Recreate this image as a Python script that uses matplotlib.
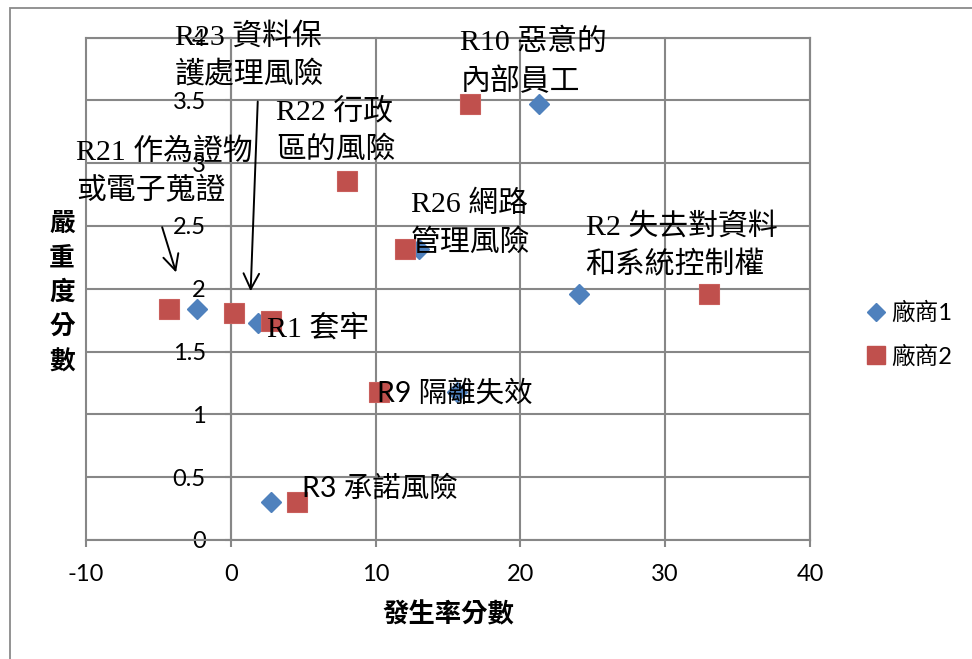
import matplotlib
matplotlib.use("Agg")
import matplotlib.pyplot as plt
from matplotlib.patches import Rectangle
from matplotlib.lines import Line2D

plt.rcParams["axes.unicode_minus"] = False

# ---- data -------------------------------------------------------------
x_ticks = [-10, 0, 10, 20, 30, 40]
y_ticks = [0, 0.5, 1, 1.5, 2, 2.5, 3, 3.5, 4]
y_tick_labels = ["0", "0.5", "1", "1.5", "2", "2.5", "3", "3.5", "4"]

series_names = ["廠商1", "廠商2"]

# 廠商1 (occurrence score, severity score)
vendor1_x = [-2.3, 1.9, 2.75, 15.6, 13.0, 21.25, 24.05]
vendor1_y = [1.84, 1.73, 0.30, 1.18, 2.32, 3.47, 1.96]

# 廠商2 (occurrence score, severity score)
vendor2_x = [-4.25, 0.2, 2.75, 4.55, 10.25, 8.05, 12.0, 16.55, 33.0]
vendor2_y = [1.84, 1.81, 1.74, 0.30, 1.18, 2.86, 2.32, 3.47, 1.96]

risk_labels = [
    "R23 資料保\n護處理風險",
    "R10 惡意的\n內部員工",
    "R22 行政\n區的風險",
    "R21 作為證物\n或電子蒐證",
    "R26 網路\n管理風險",
    "R2 失去對資料\n和系統控制權",
    "R1 套牢",
    "R9 隔離失效",
    "R3 承諾風險",
]

x_label = "發生率分數"
y_label = "嚴重度分數"

# ---- styling ----------------------------------------------------------
BLUE = "#4F81BD"
RED = "#C0504D"
GRID = "#878787"
SERIF = ["Liberation Serif", "Noto Sans CJK TC"]
SANS = ["Lato", "Noto Sans CJK TC"]
CJK = ["Noto Sans CJK TC", "DejaVu Sans"]

W, H = 972, 659
fig = plt.figure(figsize=(W / 100, H / 100), dpi=100)

ax_l, ax_r, ax_t, ax_b = 86, 810, 37.5, 540
ax = fig.add_axes([ax_l / W, 1 - ax_b / H, (ax_r - ax_l) / W, (ax_b - ax_t) / H])
ax.set_xlim(-10, 40)
ax.set_ylim(0, 4)
ax.set_xticks(x_ticks)
ax.set_yticks(y_ticks)
ax.set_yticklabels(y_tick_labels)

ax.grid(True, color=GRID, linewidth=1.5, zorder=0)
ax.set_axisbelow(True)
for gl in ax.get_xgridlines() + ax.get_ygridlines():
    gl.set_clip_on(False)

for side in ["top", "right"]:
    ax.spines[side].set_color(GRID)
    ax.spines[side].set_linewidth(1.5)
ax.spines["left"].set_position(("data", 0))
ax.spines["left"].set_color(GRID)
ax.spines["left"].set_linewidth(1.5)
ax.spines["bottom"].set_color(GRID)
ax.spines["bottom"].set_linewidth(1.5)

ax.tick_params(axis="x", direction="out", length=5, width=1.5, color=GRID,
               pad=12, labelsize=17)
ax.tick_params(axis="y", direction="out", length=4, width=1.5, color=GRID,
               pad=14, labelsize=17)
for lab in ax.get_xticklabels() + ax.get_yticklabels():
    lab.set_family(SANS)

# ---- series -----------------------------------------------------------
ax.plot(vendor1_x, vendor1_y, linestyle="none", marker="D", markersize=10.2,
        color=BLUE, markeredgecolor=BLUE, label=series_names[0], zorder=3,
        clip_on=False)
ax.plot(vendor2_x, vendor2_y, linestyle="none", marker="s", markersize=14.2,
        color=RED, markeredgecolor="#c95f5c", markeredgewidth=0.8,
        label=series_names[1], zorder=4, clip_on=False)

# ---- risk labels ------------------------------------------------------
label_pos = [
    (-3.85, 3.85), (15.85, 3.80), (3.15, 3.26), (-10.7, 2.93),
    (12.45, 2.52), (24.5, 2.34), (2.5, 1.68), (10.1, 1.17), (4.95, 0.41),
]
label_fonts = [SERIF] * 7 + [SANS, SANS]
label_sizes = [21.5] * 7 + [20.5, 20.5]
for text, (lx, ly), fam, fs in zip(risk_labels, label_pos, label_fonts,
                                   label_sizes):
    ax.text(lx, ly, text, family=fam, fontsize=fs, ha="left", va="center",
            linespacing=1.5, color="black", zorder=6, clip_on=False)

arrow_style = dict(arrowstyle="->", color="black", lw=1.4,
                   mutation_scale=28, shrinkA=0, shrinkB=0)
ax.annotate("", xy=(1.37, 1.98), xytext=(1.86, 3.49),
            arrowprops=arrow_style, zorder=6, annotation_clip=False)
ax.annotate("", xy=(-3.78, 2.13), xytext=(-4.74, 2.49),
            arrowprops=arrow_style, zorder=6, annotation_clip=False)

# ---- axis titles ------------------------------------------------------
fig.text(448 / W, 1 - 615 / H, x_label, family=CJK, fontsize=19,
         fontweight="bold", ha="center", va="center")
for i, ch in enumerate(y_label):
    fig.text(62 / W, 1 - (223 + 34.8 * i) / H, ch, family=CJK, fontsize=18.5,
             fontweight="bold", ha="center", va="center")

# ---- legend -----------------------------------------------------------
handles = [
    Line2D([], [], linestyle="none", marker="D", markersize=9, color=BLUE),
    Line2D([], [], linestyle="none", marker="s", markersize=12.5, color=RED),
]
fig.legend(handles, series_names, loc="upper left",
           bbox_to_anchor=(857 / W, 1 - 292 / H), frameon=False,
           prop={"family": SANS, "size": 17}, handlelength=0.8,
           handletextpad=0.25, labelspacing=0.9, borderaxespad=0)

# ---- outer chart border ----------------------------------------------
fig.add_artist(Rectangle((9.5 / W, -0.2), 1.5, 1.2 - 7.5 / H,
                         transform=fig.transFigure, fill=False,
                         edgecolor="#8a8a8a", linewidth=1.3))

fig.savefig("out.png", dpi=100)
